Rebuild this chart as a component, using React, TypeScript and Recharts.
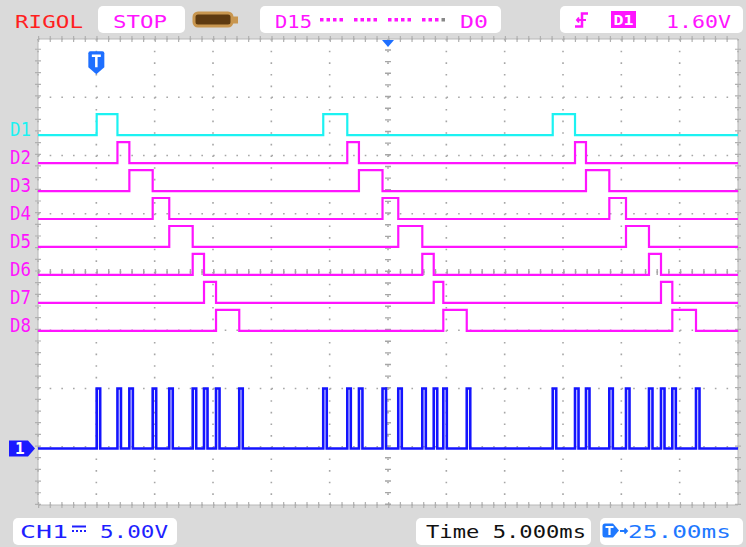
import React from 'react';
import { LineChart, Line, XAxis, YAxis, CartesianGrid, ReferenceLine, ReferenceDot } from 'recharts';

// ---- data (times in ms relative to trigger, levels in screen divisions) ----
const channelNames = ['D1', 'D2', 'D3', 'D4', 'D5', 'D6', 'D7', 'D8'];
const channelColors = ['#1cf2f2', '#ff14ff', '#ff14ff', '#ff14ff', '#ff14ff', '#ff14ff', '#ff14ff', '#ff14ff'];
const channelLow = [2.35, 1.87, 1.39, 0.91, 0.43, -0.05, -0.53, -1.01];
const pulseHigh = 0.36;
// edge times of each frame: D1 rise, D1 fall / D2 rise, ..., D8 fall
const frame1 = [0.03, 1.81, 2.83, 4.83, 6.25, 8.26, 9.23, 10.26, 12.25];
const frame2 = [19.45, 21.51, 22.51, 24.53, 25.88, 27.94, 28.92, 29.74, 31.75];
const frame3 = [39.12, 41.03, 41.97, 43.97, 45.4, 47.37, 48.4, 49.37, 51.4];
const frames = [frame1, frame2, frame3];
const ch1Low = -3.03;
const ch1High = -2.0;
const ch1PulseWidth = 0.3;
const timeTicks = [-5, 0, 5, 10, 15, 20, 25, 30, 35, 40, 45, 50, 55];
const divTicks = [-4, -3, -2, -1, 0, 1, 2, 3, 4];
const tMin = -5;
const tMax = 55;

function channelSeries(k: number) {
  const low = channelLow[k];
  const high = low + pulseHigh;
  const pts: { t: number; v: number }[] = [{ t: tMin, v: low }];
  frames.forEach((f) => {
    const a = f[k];
    const b = f[k + 1];
    pts.push({ t: a, v: low }, { t: a, v: high }, { t: b, v: high }, { t: b, v: low });
  });
  pts.push({ t: tMax, v: low });
  return pts;
}

function ch1Series() {
  const pts: { t: number; v: number }[] = [{ t: tMin, v: ch1Low }];
  frames.forEach((f) =>
    f.forEach((a) => {
      pts.push({ t: a, v: ch1Low }, { t: a, v: ch1High }, { t: a + ch1PulseWidth, v: ch1High }, { t: a + ch1PulseWidth, v: ch1Low });
    })
  );
  pts.push({ t: tMax, v: ch1Low });
  return pts;
}

const MONO = '"DejaVu Sans Mono", monospace';
const MAG = '#ff14ff';

const ChannelLabel = (p: any) => {
  const { cx, cy, idx } = p;
  return (
    <text x={cx - 28} y={cy + 1} fontFamily={MONO} fontSize={20} fill={channelColors[idx]} textLength={21} lengthAdjust="spacingAndGlyphs">
      {channelNames[idx]}
    </text>
  );
};

const Ch1Marker = (p: any) => {
  const { cx, cy } = p;
  const x0 = cx - 29;
  return (
    <g>
      <path d={`M${x0} ${cy - 8} H${x0 + 19} L${x0 + 26} ${cy} L${x0 + 19} ${cy + 8} H${x0} Z`} fill="#1a1aff" />
      <text x={x0 + 6} y={cy + 6} fontFamily={MONO} fontSize={16} fontWeight="bold" fill="#fff">1</text>
    </g>
  );
};

const TMarker = (p: any) => {
  const { cx, cy } = p;
  return (
    <g>
      <path d={`M${cx - 8} ${cy - 8} Q${cx - 8} ${cy - 10} ${cx - 6} ${cy - 10} H${cx + 6} Q${cx + 8} ${cy - 10} ${cx + 8} ${cy - 8} V${cy + 6} L${cx} ${cy + 13} L${cx - 8} ${cy + 6} Z`} fill="#1e6fff" />
      <path d={`M${cx - 4.5} ${cy - 5.5} H${cx + 4.5} M${cx} ${cy - 5.5} V${cy + 6}`} stroke="#fff" strokeWidth={2.5} />
    </g>
  );
};

const CenterMarker = (p: any) => {
  const { cx, cy } = p;
  return <path d={`M${cx - 6} ${cy + 1} L${cx + 6} ${cy + 1} L${cx} ${cy + 8} Z`} fill="#1e6fff" />;
};

const T = (props: any) => (
  <text fontFamily={MONO} fontSize={18} lengthAdjust="spacingAndGlyphs" {...props} />
);

function Frame() {
  const box = (x: number, y: number, w: number, h: number) => <rect x={x} y={y} width={w} height={h} rx={5} fill="#fff" />;
  const dots: JSX.Element[] = [];
  for (let g = 0; g < 4; g++) {
    for (let i = 0; i < 4; i++) {
      const x = 320 + g * 34 + i * 6.5;
      dots.push(<rect key={`${g}-${i}`} x={x} y={18} width={3.5} height={3.5} fill={g === 3 && i === 3 ? '#888' : MAG} />);
    }
  }
  return (
    <svg width={746} height={547} style={{ position: 'absolute', left: 0, top: 0 }}>
      <rect x={0} y={0} width={746} height={547} fill="#dadada" />
      <T x={15} y={28} fill="#ff1f1f" textLength={68}>RIGOL</T>
      {box(98, 6, 87, 27)}
      <T x={113} y={28} fill={MAG} textLength={54}>STOP</T>
      <rect x={194} y={13} width={38} height={13} rx={4} fill="#5e3a10" stroke="#c8964f" strokeWidth={3} />
      <rect x={233} y={16.5} width={5} height={7} fill="#c8964f" />
      {box(260, 6, 241, 27)}
      <T x={275} y={28} fill={MAG} textLength={37}>D15</T>
      {dots}
      <T x={460} y={28} fill={MAG} textLength={28}>D0</T>
      {box(560, 6, 183, 27)}
      <path d="M588 13.5 H582 V26.5 H575" stroke={MAG} strokeWidth={2.5} fill="none" />
      <path d="M577 20 H586 M579 17.5 L577 20 L579 22.5" stroke={MAG} strokeWidth={2} fill="none" />
      <rect x={611} y={11} width={25} height={17} fill={MAG} />
      <text x={613.5} y={25} fontFamily={MONO} fontSize={14} fontWeight="bold" fill="#fff" textLength={20} lengthAdjust="spacingAndGlyphs">D1</text>
      <T x={666} y={28} fill={MAG} textLength={65}>1.60V</T>

      {box(13, 518, 164, 27)}
      <T x={20} y={538} fill="#1f1fff" textLength={48}>CH1</T>
      <path d="M72 526.5 H86" stroke="#1f1fff" strokeWidth={2} />
      <path d="M72 531 H86" stroke="#1f1fff" strokeWidth={2} strokeDasharray="2 2" />
      <T x={100} y={538} fill="#1f1fff" textLength={68}>5.00V</T>
      {box(416, 518, 175, 27)}
      <T x={426} y={538} fill="#111" textLength={160}>Time 5.000ms</T>
      {box(600, 518, 143, 27)}
      <path d="M605 523.5 H613 L619 530.5 L613 537.5 H605 Q602.5 537.5 602.5 535 V526 Q602.5 523.5 605 523.5 Z" fill="#1e78ff" />
      <path d="M605.5 527 H613.5 M609.5 527 V535" stroke="#fff" strokeWidth={2.2} />
      <path d="M620 531 H627 M624.5 528.5 L627 531 L624.5 533.5" stroke="#1e78ff" strokeWidth={1.8} fill="none" />
      <T x={628} y={538} fill="#1e78ff" textLength={103}>25.00ms</T>
    </svg>
  );
}

export default function App() {
  return (
    <div style={{ position: 'absolute', left: 0, top: 0, width: 746, height: 547 }}>
      <Frame />
      <div style={{ position: 'absolute', left: 0, top: 0 }}>
        <LineChart width={746} height={547} margin={{ top: 39, right: 8, bottom: 42, left: 38 }}>
          <CartesianGrid fill="#ffffff" horizontal={false} stroke="#a6a6a6" strokeWidth={1.6} strokeDasharray="1.6 10.05" />
          <CartesianGrid fill="none" vertical={false} stroke="#a6a6a6" strokeWidth={1.6} strokeDasharray="1.6 10.07" />
          <XAxis type="number" dataKey="t" domain={[tMin, tMax]} ticks={timeTicks} hide allowDataOverflow />
          <YAxis type="number" domain={[-4, 4]} ticks={divTicks} hide allowDataOverflow />
          <ReferenceLine x={tMin} stroke="#b8b8b8" strokeWidth={1} />
          <ReferenceLine x={tMax} stroke="#b8b8b8" strokeWidth={1} />
          <ReferenceLine y={-4} stroke="#b8b8b8" strokeWidth={1} />
          <ReferenceLine y={4} stroke="#b8b8b8" strokeWidth={1} />
          <ReferenceLine x={tMin} stroke="#b0b0b0" strokeWidth={6} strokeDasharray="1.2 10.47" />
          <ReferenceLine x={tMax} stroke="#b0b0b0" strokeWidth={6} strokeDasharray="1.2 10.47" />
          <ReferenceLine y={-4} stroke="#b0b0b0" strokeWidth={6} strokeDasharray="1.2 10.47" />
          <ReferenceLine y={4} stroke="#b0b0b0" strokeWidth={6} strokeDasharray="1.2 10.47" />
          <ReferenceLine x={25} stroke="#a6a6a6" strokeWidth={6} strokeDasharray="1.4 10.25" />
          <ReferenceLine y={0} stroke="#a6a6a6" strokeWidth={6} strokeDasharray="1.4 10.27" />
          {channelNames.map((name, k) => (
            <Line
              key={name}
              data={channelSeries(k)}
              dataKey="v"
              type="linear"
              stroke={channelColors[k]}
              strokeWidth={2.2}
              dot={false}
              activeDot={false}
              isAnimationActive={false}
            />
          ))}
          <Line data={ch1Series()} dataKey="v" type="linear" stroke="#1414ff" strokeWidth={2.6} dot={false} activeDot={false} isAnimationActive={false} />
          {channelNames.map((name, k) => (
            <ReferenceDot key={`lab-${name}`} x={tMin} y={channelLow[k]} r={0} shape={<ChannelLabel idx={k} />} ifOverflow="visible" />
          ))}
          <ReferenceDot x={tMin} y={ch1Low} r={0} shape={<Ch1Marker />} ifOverflow="visible" />
          <ReferenceDot x={0} y={3.62} r={0} shape={<TMarker />} ifOverflow="visible" />
          <ReferenceDot x={25} y={4} r={0} shape={<CenterMarker />} ifOverflow="visible" />
        </LineChart>
      </div>
    </div>
  );
}
